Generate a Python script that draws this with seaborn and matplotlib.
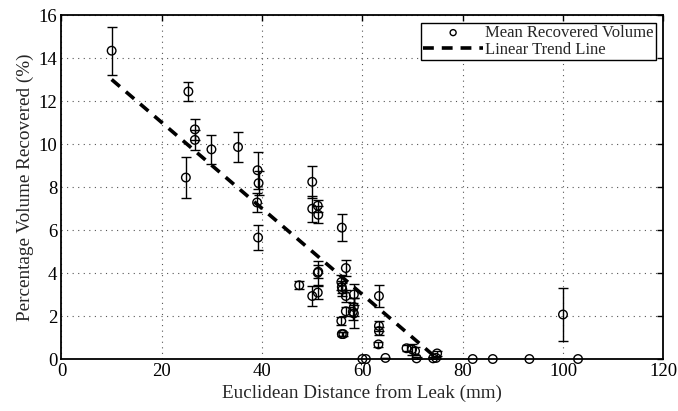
import numpy as np
import pandas as pd
import matplotlib
matplotlib.use("Agg")
import matplotlib.pyplot as plt
import seaborn as sns

# --- data ---
dist = [10.0, 25.3, 24.8, 26.6, 26.6, 29.9, 35.2, 39.1, 39.3, 39.0, 39.2,
        50.0, 50.0, 51.1, 51.2, 55.9, 47.4, 50.0, 51.1, 51.2, 51.1,
        55.8, 55.9, 56.0, 55.8, 55.9, 56.2, 56.7, 56.7, 56.7,
        58.3, 58.3, 58.3, 58.1, 60.0, 60.7, 63.3, 63.3, 63.3, 63.2,
        64.6, 68.8, 69.9, 70.5, 70.8, 74.1, 74.7, 74.9,
        82.0, 86.0, 93.3, 100.0, 103.0]
volume = [14.34, 12.44, 8.44, 10.68, 10.19, 9.75, 9.86, 8.78, 8.18, 7.28, 5.65,
          8.24, 6.99, 7.13, 6.71, 6.11, 3.43, 2.93, 4.01, 4.06, 3.09,
          3.58, 3.35, 3.23, 1.77, 1.16, 1.16, 4.23, 2.93, 2.22,
          3.00, 2.42, 2.12, 2.20, 0.0, 0.0, 2.93, 1.54, 1.30, 0.68,
          0.05, 0.50, 0.45, 0.37, 0.03, 0.03, 0.05, 0.26,
          0.0, 0.0, 0.0, 2.07, 0.0]
error = [1.12, 0.43, 0.97, 0.48, 0.48, 0.68, 0.70, 0.85, 0.55, 0.45, 0.58,
         0.74, 0.60, 0.28, 0.40, 0.63, 0.18, 0.45, 0.55, 0.30, 0.30,
         0.35, 0.30, 0.30, 0.20, 0.10, 0.10, 0.38, 0.30, 0.20,
         0.50, 0.40, 0.70, 0.40, 0.0, 0.0, 0.50, 0.25, 0.20, 0.10,
         0.02, 0.15, 0.25, 0.20, 0.05, 0.05, 0.05, 0.10,
         0.0, 0.0, 0.0, 1.21, 0.0]
trend_x = [10.0, 74.5]
trend_y = [13.0, 0.1]

x_ticks = [0, 20, 40, 60, 80, 100, 120]
y_ticks = [0, 2, 4, 6, 8, 10, 12, 14, 16]

df = pd.DataFrame({"dist": dist, "vol": volume, "err": error})
trend = pd.DataFrame({"x": trend_x, "y": trend_y})

sns.set_style("white")
plt.rcParams["font.family"] = ["Liberation Serif", "DejaVu Serif"]

fig = plt.figure(figsize=(6.78, 4.11), dpi=100)
ax = fig.add_axes([0.0907, 0.1265, 0.8876, 0.837])

# error bars
eb = df[df["err"] > 0]
ax.errorbar(eb["dist"], eb["vol"], yerr=eb["err"], fmt="none", ecolor="black",
            elinewidth=1.0, capsize=3.8, capthick=1.0, zorder=3)

sns.scatterplot(data=df, x="dist", y="vol", ax=ax, marker="o", s=38,
                facecolor="none", edgecolor="black", linewidth=1.0,
                zorder=4, clip_on=False, label="Mean Recovered Volume")
sns.lineplot(data=trend, x="x", y="y", ax=ax, color="black", linewidth=2.6,
             linestyle=(0, (3.0, 2.2)), zorder=2, label="Linear Trend Line")

ax.set_xlim(0, 120)
ax.set_ylim(0, 16)
ax.set_xticks(x_ticks)
ax.set_yticks(y_ticks)
ax.set_xlabel("Euclidean Distance from Leak (mm)", fontsize=13.8, labelpad=3)
ax.set_ylabel("Percentage Volume Recovered (%)", fontsize=13.8, labelpad=3)
ax.tick_params(direction="in", length=4, width=1.0, top=True, right=True,
               labelsize=13.5, colors="black", pad=3)
ax.grid(True, linestyle=(0, (1, 4)), color="#555555", linewidth=0.8)
for sp in ax.spines.values():
    sp.set_linewidth(1.3)
    sp.set_color("black")

leg = ax.legend(loc="upper right", fontsize=12, frameon=True, fancybox=False,
                edgecolor="black", borderpad=0.15, handlelength=3.6,
                handletextpad=0.1, labelspacing=0.05, borderaxespad=0.45,
                markerscale=0.7)
leg.get_frame().set_linewidth(1.0)
leg.get_frame().set_alpha(1)

fig.savefig("out.png", dpi=100)
